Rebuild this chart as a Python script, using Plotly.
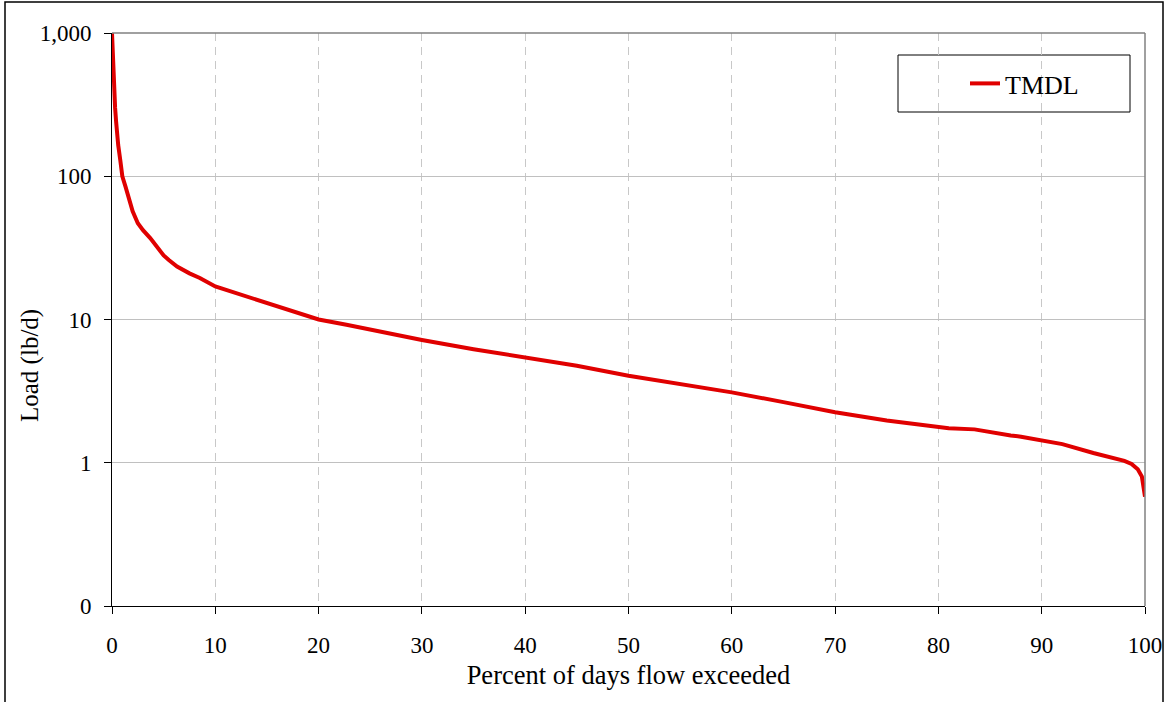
import plotly.graph_objects as go

# Percent of days flow exceeded (x) and TMDL load in lb/d (y)
pct = [0, 0.1, 0.2, 0.3, 0.4, 0.5, 0.6, 0.8, 1.0, 1.3, 1.6, 2.0, 2.5, 3.0, 3.7,
       4.5, 5.0, 5.5, 6.3, 7.5, 8.5, 10, 12, 15, 17.5, 20, 22.7, 25, 27.5, 30,
       35, 40, 45, 50, 55, 60, 65, 70, 75, 80, 81, 83.5, 85, 87, 88, 90, 92,
       95, 97, 98, 98.7, 99.3, 99.7, 100]
load = [1000, 600, 390, 300, 240, 190, 165, 130, 100, 85, 72, 57, 47, 42, 37,
        31, 28, 26, 23.4, 21, 19.5, 17, 15.3, 13, 11.5, 10.0, 9.2, 8.5, 7.8, 7.2,
        6.2, 5.41, 4.75, 4.05, 3.53, 3.1, 2.65, 2.25, 1.97, 1.79, 1.74, 1.71, 1.63, 1.55, 1.52, 1.44, 1.35,
        1.17, 1.07, 1.03, 0.98, 0.9, 0.8, 0.58]

y_tickvals = [0.1, 1, 10, 100, 1000]
y_ticktext = ["0", "1", "10", "100", "1,000"]
x_tickvals = [0, 10, 20, 30, 40, 50, 60, 70, 80, 90, 100]

FONT = "Liberation Serif, Times New Roman, serif"

fig = go.Figure()
fig.add_trace(go.Scatter(x=pct, y=load, mode="lines", name="TMDL",
                         line=dict(color="#e00000", width=4)))

W, H = 1169, 702
L, R, T, B = 112, 24, 33, 96
pw, ph = W - L - R, H - T - B

def px(xp):
    return (xp - L) / pw

def py(yp):
    return (H - B - yp) / ph

fig.update_layout(
    width=W, height=H,
    margin=dict(l=L, r=R, t=T, b=B, autoexpand=False),
    paper_bgcolor="white", plot_bgcolor="white",
    font=dict(family=FONT, size=23, color="black"),
    showlegend=True,
    legend=dict(x=px(965), y=py(60), xanchor="left", yanchor="top",
                bgcolor="rgba(0,0,0,0)", borderwidth=0,
                font=dict(family=FONT, size=26, color="black")),
    xaxis=dict(range=[0, 100], tickvals=x_tickvals, showline=True,
               linecolor="black", linewidth=1, ticks="outside", ticklen=7,
               tickcolor="black", ticklabelstandoff=11, automargin=False,
               showgrid=True, gridcolor="#c8c8c8", griddash="8px,6px", gridwidth=1,
               zeroline=False,
               title=dict(text="Percent of days flow exceeded",
                          font=dict(family=FONT, size=26.5), standoff=8)),
    yaxis=dict(type="log", range=[-1, 3], tickvals=y_tickvals, ticktext=y_ticktext,
               showline=True, linecolor="black", linewidth=1, ticks="outside",
               ticklen=7, tickcolor="black", ticklabelstandoff=8, automargin=False,
               showgrid=True, gridcolor="#c0c0c0", gridwidth=1, zeroline=False),
    annotations=[
        dict(text="Load (lb/d)", textangle=-90, xref="paper", yref="paper",
             x=px(30), y=py(365), xanchor="center", yanchor="middle",
             showarrow=False, font=dict(family=FONT, size=25, color="black")),
    ],
    shapes=[
        # top and right frame of plot area
        dict(type="line", xref="paper", yref="paper", x0=0, x1=1, y0=1, y1=1,
             line=dict(color="#808080", width=1.5)),
        dict(type="line", xref="paper", yref="paper", x0=1, x1=1, y0=0, y1=1,
             line=dict(color="#808080", width=1.5)),
        # legend box
        dict(type="rect", xref="paper", yref="paper",
             x0=px(898), x1=px(1130), y0=py(112), y1=py(55),
             line=dict(color="black", width=1), fillcolor="white", layer="below"),
        # outer chart frame
        dict(type="rect", xref="paper", yref="paper",
             x0=px(5), x1=px(1163), y0=py(720), y1=py(2),
             line=dict(color="black", width=1.5), fillcolor="rgba(0,0,0,0)"),
    ],
)

fig.write_html("out.html")
